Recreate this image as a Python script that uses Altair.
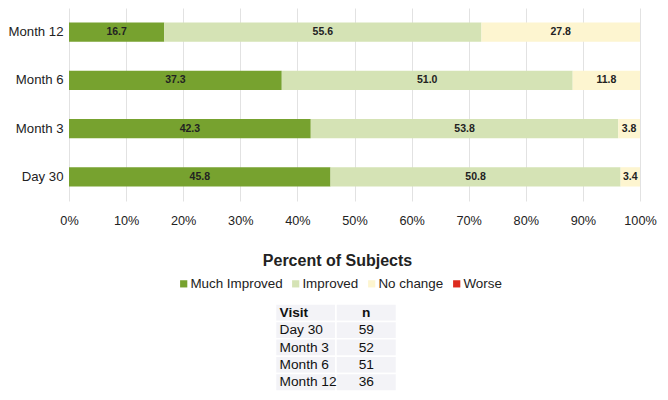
import altair as alt
import pandas as pd

visits = ["Day 30", "Month 3", "Month 6", "Month 12"]
categories = ["Much Improved", "Improved", "No change", "Worse"]
much_improved = [45.8, 42.3, 37.3, 16.7]
improved = [50.8, 53.8, 51.0, 55.6]
no_change = [3.4, 3.8, 11.8, 27.8]
worse = [0.0, 0.0, 0.0, 0.0]
n_subjects = [59, 52, 51, 36]
tick_values = [0, 0.1, 0.2, 0.3, 0.4, 0.5, 0.6, 0.7, 0.8, 0.9, 1.0]

colors = ["#77a22f", "#d5e3b5", "#fdf5d0", "#dd2b1f"]
visit_order_top_down = ["Month 12", "Month 6", "Month 3", "Day 30"]

rows = []
for k, (name, series) in enumerate(zip(categories, [much_improved, improved, no_change, worse])):
    for v, val in zip(visits, series):
        rows.append({"visit": v, "category": name, "order": k, "value": val, "label": f"{val:.1f}"})
df = pd.DataFrame(rows)

base = alt.Chart(df).transform_stack(
    stack="value", groupby=["visit"], sort=[alt.SortField("order")],
    as_=["x0", "x1"], offset="normalize"
).transform_calculate(mid="(datum.x0 + datum.x1) / 2").transform_filter("datum.value > 0")

y_enc = alt.Y(
    "visit:N", sort=visit_order_top_down,
    scale=alt.Scale(paddingInner=0.6, paddingOuter=0.3),
    axis=alt.Axis(title=None, domain=False, ticks=False, labelFontSize=13.2,
                  labelPadding=6, labelColor="#222"),
)

bars = base.mark_bar().encode(
    x=alt.X("x0:Q", scale=alt.Scale(domain=[0, 1], nice=False),
            axis=alt.Axis(values=tick_values, format=".0%", grid=True, gridColor="#e2e2e2",
                          domain=False, ticks=False, tickSize=0, labelFontSize=12.7,
                          labelFlush=False, labelPadding=13, labelColor="#222",
                          title="Percent of Subjects", titleFontSize=16, titleFontWeight="bold",
                          titleColor="#222", titleX=268, titleY=64, titleAlign="center",
                          titleBaseline="alphabetic")),
    x2="x1:Q",
    y=y_enc,
    color=alt.Color("category:N", scale=alt.Scale(domain=categories, range=colors),
                    legend=alt.Legend(orient="none", legendX=108, legendY=268.7,
                                      direction="horizontal", columns=4, title=None,
                                      symbolType="square", symbolSize=52, symbolStrokeWidth=0,
                                      labelFontSize=13.4, labelOffset=0, columnPadding=6,
                                      labelColor="#222", padding=0)),
)

texts = base.mark_text(fontWeight="bold", fontSize=10.5, color="#222").encode(
    x="mid:Q", y=y_enc, text="label:N"
)

bar_chart = alt.layer(bars, texts).properties(width=571, height=193)

# table
row_order = ["Visit"] + visits
col_order = ["Visit", "n"]
trows = []
trows.append({"row": "Visit", "col": "Visit", "text": "Visit", "header": 1})
trows.append({"row": "Visit", "col": "n", "text": "n", "header": 1})
for v, n in zip(visits, n_subjects):
    trows.append({"row": v, "col": "Visit", "text": v, "header": 0})
    trows.append({"row": v, "col": "n", "text": str(n), "header": 0})
tdf = pd.DataFrame(trows)

table_x_range = [206.5, 327.5]
tscale = alt.Scale(paddingInner=0, paddingOuter=0, range=table_x_range)
tx = alt.X("col:N", sort=col_order, axis=None, scale=tscale)
tx_left = alt.X("col:N", sort=col_order, axis=None, bandPosition=0, scale=tscale)
ty = alt.Y("row:N", sort=row_order, axis=None, scale=alt.Scale(paddingInner=0, paddingOuter=0))
tbase = alt.Chart(tdf)
cells = tbase.mark_rect(color="#f3f3f7", stroke="white", strokeWidth=1.5).encode(x=tx, y=ty)

layers = [cells]
for hdr, wt in [(1, "bold"), (0, "normal")]:
    layers.append(
        tbase.transform_filter(f"datum.col == 'Visit' && datum.header == {hdr}").mark_text(
            align="left", dx=4, fontSize=13.7, color="#111", fontWeight=wt
        ).encode(x=tx_left, y=ty, text="text:N")
    )
    layers.append(
        tbase.transform_filter(f"datum.col == 'n' && datum.header == {hdr}").mark_text(
            align="center", fontSize=13.7, color="#111", fontWeight=wt
        ).encode(x=tx, y=ty, text="text:N")
    )
table = alt.layer(*layers).properties(width=571, height=87)

chart = alt.vconcat(bar_chart, table, spacing=35).properties(
    padding=0
).configure(font="Liberation Sans").configure_view(strokeWidth=0)

chart.save("out.html", embed_options={"renderer": "svg", "actions": False})
